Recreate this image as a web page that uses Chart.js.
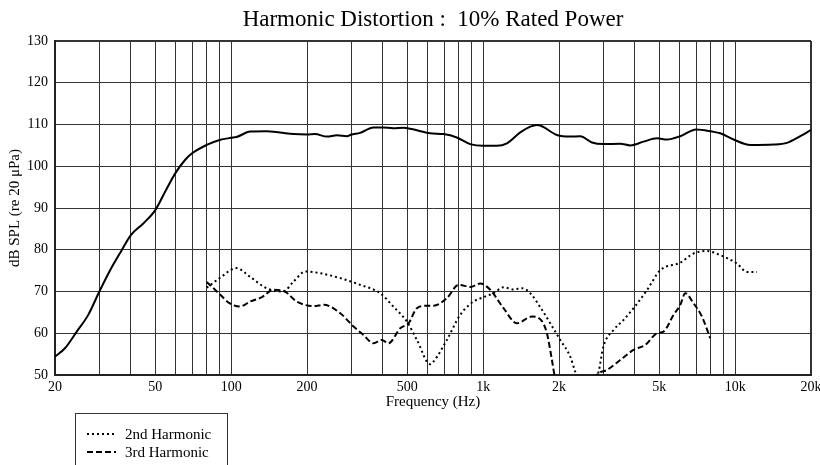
<!DOCTYPE html>
<html>
<head>
<meta charset="utf-8">
<script src="https://cdn.jsdelivr.net/npm/chart.js@4.4.1/dist/chart.umd.min.js"></script>
<style>
  html, body { margin: 0; padding: 0; background: #fff; }
  canvas { display: block; }
</style>
</head>
<body>
<canvas id="chart" width="820" height="465"></canvas>
<script>
// -- Data -----------------------------------------------------------------

const TITLE = 'Harmonic Distortion :  10% Rated Power';

// fundamental (solid)
const mainFreq = [20, 21.9, 24.4, 27.1, 30, 33.1, 36.8, 40, 44.8, 50,
  54.7, 60, 65.6, 70, 80, 90, 100, 105, 119, 138,
  156, 177, 200, 215, 240, 263, 288, 300, 325, 367,
  400, 440, 483, 521, 616, 696, 786, 889, 1000, 1134,
  1243, 1404, 1538, 1634, 1695, 1962, 2216, 2429, 2701, 3000,
  3500, 3835, 4333, 4895, 5364, 6058, 7000, 8093, 8730, 9862,
  11485, 14212, 16059, 18140, 20000];
const mainDb = [54.4, 56.4, 60.4, 64.4, 70.0, 75.1, 79.9, 83.5, 86.3, 89.5,
  93.9, 98.3, 101.5, 103.1, 105.1, 106.3, 106.8, 107.0, 108.3, 108.4,
  108.1, 107.7, 107.6, 107.7, 107.1, 107.4, 107.2, 107.6, 108.0, 109.3,
  109.3, 109.1, 109.2, 108.9, 107.9, 107.7, 106.9, 105.3, 104.9, 104.9,
  105.5, 108.1, 109.5, 109.9, 109.7, 107.5, 107.1, 107.2, 105.7, 105.3,
  105.4, 105.0, 105.9, 106.7, 106.4, 107.2, 108.8, 108.3, 107.9, 106.4,
  105.1, 105.2, 105.6, 107.2, 108.7];

// 2nd harmonic (dotted)
const h2Freq = [80, 90, 105, 119, 138, 161, 177, 197, 225, 271,
  325, 390, 440, 498, 546, 616, 635, 718, 811, 916,
  1000, 1100, 1205, 1320, 1425, 1538, 1695, 1846, 2022, 2216,
  2319, 2450, 2700, 2872, 3000, 3294, 3609, 4000, 4467, 5045,
  6058, 6834, 7726, 8730, 10168, 11140, 12205];
const h2Db = [70.9, 73.2, 75.6, 73.5, 70.8, 70.0, 72.4, 74.8, 74.4, 73.2,
  71.6, 69.6, 66.4, 62.8, 58.4, 52.6, 53.2, 58.4, 64.4, 67.6,
  68.6, 69.6, 71.0, 70.5, 70.8, 69.6, 66.0, 62.4, 58.4, 54.4,
  50.8, 47, 47, 50.8, 56.8, 60.8, 63.2, 66.4, 70.3, 75.1,
  76.9, 79.1, 79.7, 78.7, 76.7, 74.7, 74.7];

// 3rd harmonic (dashed)
const h3Freq = [80, 90, 98.5, 108.5, 119, 132, 147, 161, 182, 212,
  233, 271, 306, 335, 367, 396, 421, 469, 506, 546,
  598, 635, 718, 799, 889, 974, 1067, 1205, 1361, 1561,
  1695, 1791, 1875, 1920, 2100, 2600, 2829, 3100, 3500, 3952,
  4398, 4895, 5200, 5697, 6058, 6340, 6834, 7383, 7966];
const h3Db = [72.3, 69.4, 67.2, 66.4, 67.6, 68.6, 70.4, 70.2, 67.6, 66.5,
  66.8, 64.8, 61.6, 59.6, 57.6, 58.4, 57.6, 61.2, 62.4, 66.0,
  66.6, 66.6, 68.4, 71.6, 71.1, 71.9, 70.4, 66.0, 62.4, 64.0,
  63.2, 60.0, 53.6, 50.0, 45, 45, 50.0, 51.2, 53.6, 56.0,
  57.2, 60.0, 60.4, 64.4, 66.8, 69.6, 67.2, 64.0, 58.8];

// axis ticks
const gridFreqs = [20, 30, 40, 50, 60, 70, 80, 90, 100, 200, 300, 400, 500,
  600, 700, 800, 900, 1000, 2000, 3000, 4000, 5000, 6000, 7000, 8000, 9000,
  10000, 20000];
const labelFreqs = [20, 50, 100, 200, 500, 1000, 2000, 5000, 10000, 20000];
const tickLabels = ['20', '50', '100', '200', '500', '1k', '2k', '5k', '10k', '20k'];

// -- Helpers --------------------------------------------------------------

const SERIF = '"Liberation Serif", "Times New Roman", serif';

function toPoints(xs, ys) {
  return xs.map((x, i) => ({ x, y: ys[i] }));
}

// title + boxed legend, drawn on top of the chart
const decor = {
  id: 'decor',
  afterDraw(chart) {
    const { ctx, chartArea } = chart;
    ctx.save();
    ctx.fillStyle = '#000';
    ctx.font = '23px ' + SERIF;
    ctx.textAlign = 'center';
    ctx.textBaseline = 'alphabetic';
    ctx.fillText(TITLE, (chartArea.left + chartArea.right) / 2, 26);

    ctx.strokeStyle = '#333';
    ctx.lineWidth = 1;
    ctx.strokeRect(75.5, 413.5, 152, 60);

    ctx.font = '15px ' + SERIF;
    ctx.textAlign = 'left';
    [1, 2].forEach((di, row) => {
      const ds = chart.data.datasets[di];
      const y = 434 + row * 18;
      ctx.save();
      ctx.strokeStyle = '#000';
      ctx.lineWidth = 2;
      ctx.setLineDash(ds.borderDash);
      ctx.beginPath();
      ctx.moveTo(87, y);
      ctx.lineTo(116, y);
      ctx.stroke();
      ctx.restore();
      ctx.fillText(ds.label, 125, y + 5);
    });
    ctx.restore();
  },
};

const edgeWidth = (edge) => (c) => (c.tick && c.tick.value === edge ? 2 : 1);

// -- Chart ----------------------------------------------------------------

new Chart(document.getElementById('chart'), {
  type: 'line',
  data: {
    datasets: [
      {
        label: 'Fundamental',
        data: toPoints(mainFreq, mainDb),
        borderColor: '#000',
        borderWidth: 2,
      },
      {
        label: '2nd Harmonic',
        data: toPoints(h2Freq, h2Db),
        borderColor: '#000',
        borderWidth: 2,
        borderDash: [2, 3],
      },
      {
        label: '3rd Harmonic',
        data: toPoints(h3Freq, h3Db),
        borderColor: '#000',
        borderWidth: 2,
        borderDash: [6, 3],
      },
    ],
  },
  options: {
    responsive: false,
    animation: false,
    layout: { padding: { top: 41, right: 9, left: 0, bottom: 0 } },
    elements: {
      point: { radius: 0 },
      line: { cubicInterpolationMode: 'monotone', fill: false },
    },
    datasets: { line: { clip: 0 } },
    scales: {
      x: {
        type: 'logarithmic',
        min: 20,
        max: 20000,
        afterBuildTicks(scale) {
          scale.ticks = gridFreqs.map((v) => ({ value: v }));
        },
        afterFit(scale) {
          scale.height = 90;
          scale.paddingRight = 9;
          scale.paddingLeft = 0;
        },
        grid: { color: '#333', lineWidth: edgeWidth(20000), drawTicks: false },
        border: { color: '#222', width: 2 },
        ticks: {
          autoSkip: false,
          maxRotation: 0,
          padding: 4,
          color: '#000',
          font: { family: SERIF, size: 14 },
          callback(value) {
            const i = labelFreqs.indexOf(value);
            return i >= 0 ? tickLabels[i] : '';
          },
        },
        title: {
          display: true,
          text: 'Frequency (Hz)',
          color: '#000',
          font: { family: SERIF, size: 15 },
          padding: { top: 0, bottom: 54 },
        },
      },
      y: {
        min: 50,
        max: 130,
        afterFit(scale) {
          scale.width = 55;
          scale.paddingTop = 0;
          scale.paddingBottom = 0;
        },
        grid: { color: '#333', lineWidth: edgeWidth(130), drawTicks: false },
        border: { color: '#222', width: 2 },
        ticks: {
          stepSize: 10,
          padding: 7,
          color: '#000',
          font: { family: SERIF, size: 14 },
        },
        title: {
          display: true,
          text: 'dB SPL (re 20 μPa)',
          color: '#000',
          font: { family: SERIF, size: 15 },
          padding: { top: 6, bottom: 0 },
        },
      },
    },
    plugins: {
      legend: { display: false },
      tooltip: { enabled: false },
    },
  },
  plugins: [decor],
});
</script>
</body>
</html>
